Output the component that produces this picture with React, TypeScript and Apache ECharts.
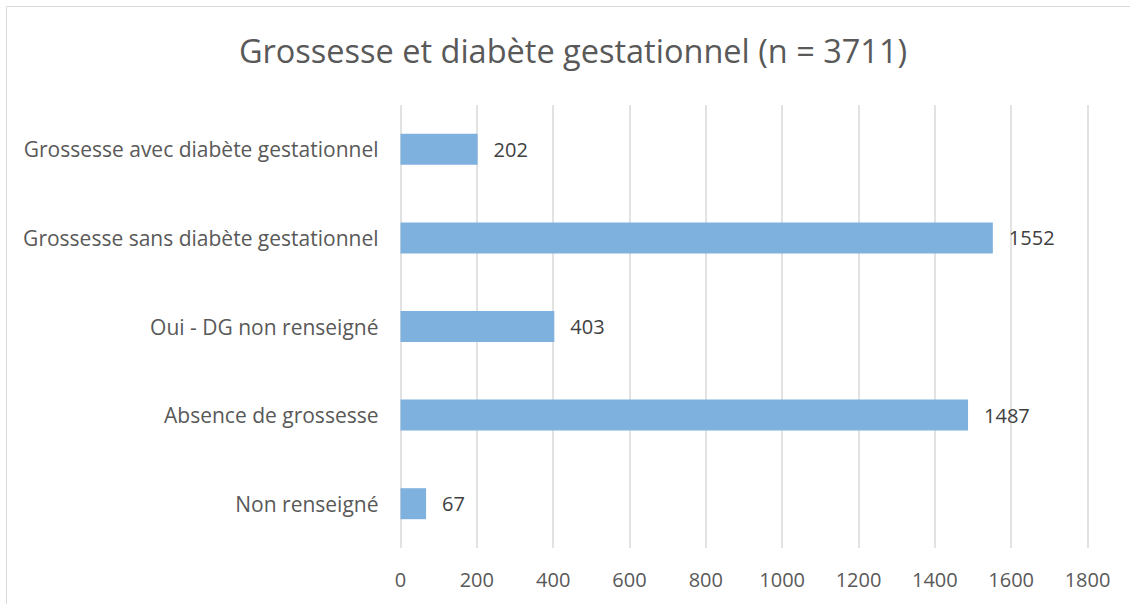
import React, { useEffect, useRef } from "react";
import * as echarts from "echarts";

const categories = [
  "Non renseigné",
  "Absence de grossesse",
  "Oui - DG non renseigné",
  "Grossesse sans diabète gestationnel",
  "Grossesse avec diabète gestationnel",
];
const values = [67, 1487, 403, 1552, 202];
const titleText = "Grossesse et diabète gestationnel (n = 3711)";

export default function App() {
  const ref = useRef<HTMLDivElement>(null);
  useEffect(() => {
    if (!ref.current) return;
    const chart = echarts.init(ref.current, null, { renderer: "svg" });
    const font = "'Open Sans', 'Noto Sans', sans-serif";
    chart.setOption({
      animation: false,
      backgroundColor: "#ffffff",
      title: {
        text: titleText,
        left: 568,
        textAlign: "center",
        top: 29,
        textStyle: { fontFamily: font, fontSize: 32.5, fontWeight: "normal", color: "#595959" },
      },
      graphic: [
        {
          type: "rect",
          shape: { x: 6.5, y: 6.5, width: 1200, height: 700 },
          style: { fill: "none", stroke: "#d9d9d9", lineWidth: 1 },
          silent: true,
        },
      ],
      grid: { left: 400.5, right: 42.5, top: 105, bottom: 56, containLabel: false },
      xAxis: {
        type: "value",
        min: 0,
        max: 1800,
        interval: 200,
        axisLine: { show: false },
        axisTick: { show: false },
        splitLine: { show: true, lineStyle: { color: "#d9d9d9", width: 1.5 } },
        axisLabel: {
          fontFamily: font,
          fontSize: 20,
          color: "#595959",
          margin: 21,
          formatter: (v: number) => String(v),
        },
      },
      yAxis: {
        type: "category",
        data: categories,
        axisLine: { show: false },
        axisTick: { show: false },
        axisLabel: { fontFamily: font, fontSize: 21, color: "#595959", margin: 22 },
      },
      series: [
        {
          type: "bar",
          data: values,
          barWidth: 31,
          itemStyle: { color: "#7fb1df" },
          label: {
            show: true,
            position: "right",
            distance: 16,
            fontFamily: font,
            fontSize: 20,
            color: "#404040",
          },
        },
      ],
    });
    return () => chart.dispose();
  }, []);
  return (
    <div
      ref={ref}
      style={{ position: "fixed", left: 0, top: 0, width: 1130, height: 604 }}
    />
  );
}
